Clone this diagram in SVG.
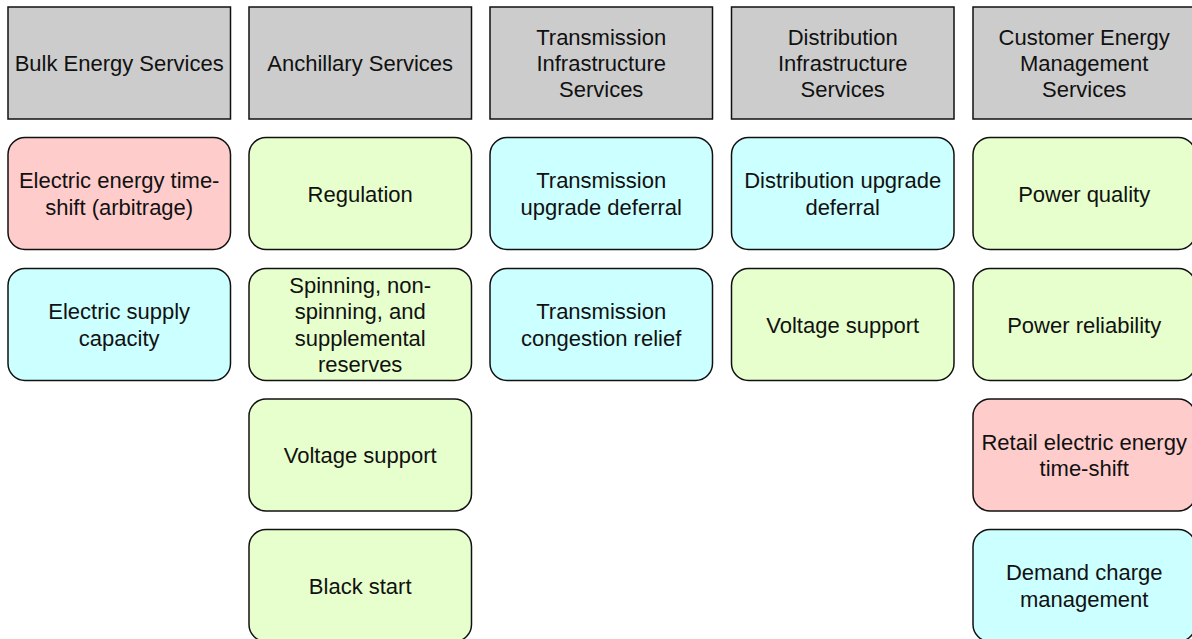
<svg xmlns="http://www.w3.org/2000/svg" width="1192" height="639" viewBox="0 0 1192 639">
<style>
.b{stroke:#111;stroke-width:1.5}
.h{fill:#CCCCCC}
.r{fill:#FFCCCC}
.c{fill:#CCFFFF}
.g{fill:#E6FFCC}
text{font-family:"Liberation Sans",Arial,sans-serif;font-size:22px;fill:#111;text-anchor:middle}
</style>
<rect width="1192" height="639" fill="#fff"/>
<g id="connectors"/>
<g id="h1"><rect class="b h" x="8" y="7" width="222.5" height="112"/><text x="119.2" y="71">Bulk Energy Services</text></g>
<g id="h2"><rect class="b h" x="249" y="7" width="222.5" height="112"/><text x="360.2" y="71">Anchillary Services</text></g>
<g id="h3"><rect class="b h" x="490" y="7" width="222.5" height="112"/><text x="601.2" y="44.6">Transmission</text><text x="601.2" y="71">Infrastructure</text><text x="601.2" y="97.4">Services</text></g>
<g id="h4"><rect class="b h" x="731.5" y="7" width="222.5" height="112"/><text x="842.7" y="44.6">Distribution</text><text x="842.7" y="71">Infrastructure</text><text x="842.7" y="97.4">Services</text></g>
<g id="h5"><rect class="b h" x="973" y="7" width="222.5" height="112"/><text x="1084.2" y="44.6">Customer Energy</text><text x="1084.2" y="71">Management</text><text x="1084.2" y="97.4">Services</text></g>

<g id="n11"><rect class="b r" x="8" y="137.5" width="222.5" height="112" rx="17"/><text x="119.2" y="188.3">Electric energy time-</text><text x="119.2" y="214.7">shift (arbitrage)</text></g>
<g id="n12"><rect class="b c" x="8" y="268.5" width="222.5" height="112" rx="17"/><text x="119.2" y="319.3">Electric supply</text><text x="119.2" y="345.7">capacity</text></g>

<g id="n21"><rect class="b g" x="249" y="137.5" width="222.5" height="112" rx="17"/><text x="360.2" y="201.5">Regulation</text></g>
<g id="n22"><rect class="b g" x="249" y="268.5" width="222.5" height="112" rx="17"/><text x="360.2" y="292.9">Spinning, non-</text><text x="360.2" y="319.3">spinning, and</text><text x="360.2" y="345.7">supplemental</text><text x="360.2" y="372.1">reserves</text></g>
<g id="n23"><rect class="b g" x="249" y="399" width="222.5" height="112" rx="17"/><text x="360.2" y="463">Voltage support</text></g>
<g id="n24"><rect class="b g" x="249" y="529.5" width="222.5" height="112" rx="17"/><text x="360.2" y="593.5">Black start</text></g>

<g id="n31"><rect class="b c" x="490" y="137.5" width="222.5" height="112" rx="17"/><text x="601.2" y="188.3">Transmission</text><text x="601.2" y="214.7">upgrade deferral</text></g>
<g id="n32"><rect class="b c" x="490" y="268.5" width="222.5" height="112" rx="17"/><text x="601.2" y="319.3">Transmission</text><text x="601.2" y="345.7">congestion relief</text></g>

<g id="n41"><rect class="b c" x="731.5" y="137.5" width="222.5" height="112" rx="17"/><text x="842.7" y="188.3">Distribution upgrade</text><text x="842.7" y="214.7">deferral</text></g>
<g id="n42"><rect class="b g" x="731.5" y="268.5" width="222.5" height="112" rx="17"/><text x="842.7" y="332.5">Voltage support</text></g>

<g id="n51"><rect class="b g" x="973" y="137.5" width="222.5" height="112" rx="17"/><text x="1084.2" y="201.5">Power quality</text></g>
<g id="n52"><rect class="b g" x="973" y="268.5" width="222.5" height="112" rx="17"/><text x="1084.2" y="332.5">Power reliability</text></g>
<g id="n53"><rect class="b r" x="973" y="399" width="222.5" height="112" rx="17"/><text x="1084.2" y="449.8">Retail electric energy</text><text x="1084.2" y="476.2">time-shift</text></g>
<g id="n54"><rect class="b c" x="973" y="529.5" width="222.5" height="112" rx="17"/><text x="1084.2" y="580.3">Demand charge</text><text x="1084.2" y="606.7">management</text></g>
</svg>
